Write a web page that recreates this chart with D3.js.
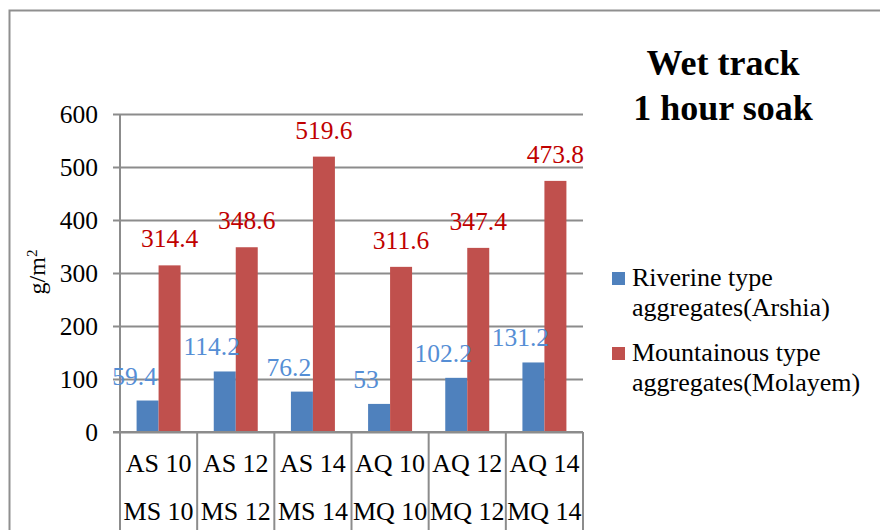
<!DOCTYPE html>
<html>
<head>
<meta charset="utf-8">
<script src="https://cdn.jsdelivr.net/npm/d3@7"></script>
<style>
  html, body { margin: 0; padding: 0; background: #fff; }
  svg { display: block; }
  svg text { font-family: "Liberation Serif", Tinos, "Times New Roman", Times, "DejaVu Serif", serif !important; }
</style>
</head>
<body>
<svg id="chart" width="880" height="530"></svg>
<script>
// Wet track abrasion loss after 1 hour soak (g/m²)
const topLabels = ["AS 10", "AS 12", "AS 14", "AQ 10", "AQ 12", "AQ 14"];
const bottomLabels = ["MS 10", "MS 12", "MS 14", "MQ 10", "MQ 12", "MQ 14"];
const riverine = [59.4, 114.2, 76.2, 53, 102.2, 131.2];
const mountainous = [314.4, 348.6, 519.6, 311.6, 347.4, 473.8];
const seriesNames = ["Riverine type|aggregates(Arshia)", "Mountainous type|aggregates(Molayem)"];
const yTicks = [0, 100, 200, 300, 400, 500, 600];

const barColors = ["#4F81BD", "#C0504D"];
const labelColors = ["#558ED5", "#C00000"];
const gridColor = "#8c8c8c";
const serif = "'Liberation Serif', Tinos, 'Times New Roman', Times, 'DejaVu Serif', serif";

const svg = d3.select("#chart").attr("font-family", serif);

// Outer chart frame
svg.append("rect")
  .attr("x", 9.5).attr("y", 10.5)
  .attr("width", 900).attr("height", 560)
  .attr("fill", "none").attr("stroke", "#8f8f8f").attr("stroke-width", 2);

const plot = { left: 120, right: 583, top: 114, bottom: 432 };

const x = d3.scaleBand()
  .domain(d3.range(topLabels.length))
  .range([plot.left, plot.right])
  .paddingInner(0).paddingOuter(0);

const groupW = x.bandwidth() * 0.57;
const x1 = d3.scaleBand()
  .domain([0, 1])
  .range([(x.bandwidth() - groupW) / 2, (x.bandwidth() + groupW) / 2]);

const y = d3.scaleLinear().domain([0, 600]).range([plot.bottom, plot.top]);

// Gridlines with left tick marks
const yAxis = d3.axisLeft(y)
  .tickValues(yTicks)
  .tickSize(-(plot.right - plot.left))
  .tickSizeOuter(0)
  .tickPadding(22);

const gy = svg.append("g")
  .attr("transform", `translate(${plot.left},0)`)
  .call(yAxis)
  .attr("font-family", serif);
gy.select(".domain").remove();
gy.selectAll(".tick line")
  .attr("x1", -7)
  .attr("stroke", gridColor).attr("stroke-width", 2);
gy.selectAll(".tick text")
  .attr("font-size", 25.5)
  .attr("fill", "#000")
  .attr("dy", "0.34em");

// Vertical value axis line
svg.append("line")
  .attr("x1", plot.left).attr("x2", plot.left)
  .attr("y1", plot.top).attr("y2", plot.bottom)
  .attr("stroke", gridColor).attr("stroke-width", 2);

// Category separators below the baseline
const seps = d3.range(topLabels.length + 1).map(i =>
  i < topLabels.length ? x(i) : x(topLabels.length - 1) + x.bandwidth());
svg.append("g").selectAll("line")
  .data(seps)
  .join("line")
  .attr("x1", d => d).attr("x2", d => d)
  .attr("y1", plot.bottom).attr("y2", 530)
  .attr("stroke", gridColor).attr("stroke-width", 2);

// Bars
const series = [riverine, mountainous];
series.forEach((vals, s) => {
  svg.append("g").selectAll("rect")
    .data(vals)
    .join("rect")
    .attr("x", (d, i) => x(i) + x1(s))
    .attr("width", x1.bandwidth())
    .attr("y", d => y(d))
    .attr("height", d => y(0) - y(d))
    .attr("fill", barColors[s]);
});

// Baseline drawn over bar bottoms
svg.append("line")
  .attr("x1", plot.left - 7).attr("x2", plot.right)
  .attr("y1", plot.bottom).attr("y2", plot.bottom)
  .attr("stroke", gridColor).attr("stroke-width", 2);

// Value labels
const labelShift = [{ dx: -13, dy: -16 }, { dx: 0, dy: -18 }];
series.forEach((vals, s) => {
  svg.append("g").selectAll("text")
    .data(vals)
    .join("text")
    .attr("x", (d, i) => x(i) + x1(s) + x1.bandwidth() / 2 + labelShift[s].dx)
    .attr("y", d => y(d) + labelShift[s].dy)
    .attr("text-anchor", "middle")
    .attr("font-size", 25.5)
    .attr("fill", labelColors[s])
    .text(d => d);
});

// Two-row category labels
const catG = svg.append("g");
[topLabels, bottomLabels].forEach((labels, row) => {
  catG.selectAll(null)
    .data(labels)
    .join("text")
    .attr("x", (d, i) => x(i) + x.bandwidth() / 2)
    .attr("y", row === 0 ? 472 : 520)
    .attr("text-anchor", "middle")
    .attr("font-size", 26)
    .attr("fill", "#000")
    .text(d => d);
});

// Y axis title
const yt = svg.append("text")
  .attr("transform", "translate(45,272) rotate(-90)")
  .attr("text-anchor", "middle")
  .attr("font-size", 24)
  .attr("fill", "#000");
yt.append("tspan").text("g/m");
yt.append("tspan").attr("baseline-shift", "super").attr("font-size", 15).text("2");

// Chart title
const title = svg.append("text")
  .attr("text-anchor", "middle")
  .attr("font-size", 36)
  .attr("font-weight", "bold")
  .attr("fill", "#000");
title.append("tspan").attr("x", 723).attr("y", 75).text("Wet track");
title.append("tspan").attr("x", 723).attr("y", 120).text("1 hour soak");

// Legend
const legendY = [272, 347];
seriesNames.forEach((name, s) => {
  const g = svg.append("g");
  g.append("rect")
    .attr("x", 612).attr("y", legendY[s])
    .attr("width", 13).attr("height", 13)
    .attr("fill", barColors[s]);
  const lines = name.split("|");
  lines.forEach((ln, k) => {
    g.append("text")
      .attr("x", 632)
      .attr("y", legendY[s] + 14 + k * 30)
      .attr("font-size", 26)
      .attr("fill", "#000")
      .text(ln);
  });
});
</script>
</body>
</html>
